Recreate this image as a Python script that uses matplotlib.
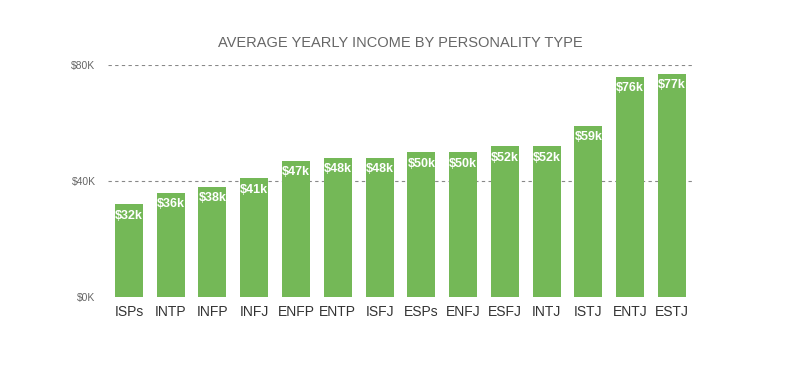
import numpy as np
import matplotlib.pyplot as plt

types = ["ISPs", "INTP", "INFP", "INFJ", "ENFP", "ENTP", "ISFJ",
         "ESPs", "ENFJ", "ESFJ", "INTJ", "ISTJ", "ENTJ", "ESTJ"]
income_k = [32, 36, 38, 41, 47, 48, 48, 50, 50, 52, 52, 59, 76, 77]
yticks = [0, 40, 80]
ytick_labels = ["$0K", "$40K", "$80K"]

plt.rcParams['font.family'] = ['Liberation Sans', 'DejaVu Sans']

fig = plt.figure(figsize=(8, 3.78), dpi=100)
ax = fig.add_axes([0.135, 0.214, 0.731, 0.614])

x = np.arange(len(types))
ax.bar(x, income_k, width=0.67, color="#74b857", zorder=2)

for xi, v in zip(x, income_k):
    ax.annotate("$%dk" % v, (xi, v), xytext=(0, -4), textcoords="offset points",
                ha="center", va="top", color="white", fontsize=9,
                fontweight="bold", zorder=3)

# dashed guide lines
for yv in yticks[1:]:
    ax.axhline(yv, color="#888888", lw=0.8, ls=(0, (3, 3)), zorder=1)

ax.set_xlim(-0.5, 13.5)
ax.set_ylim(0, 80)
ax.set_xticks(x)
ax.set_xticklabels(types, fontsize=10, color="#333333")
ax.set_yticks(yticks)
ax.set_yticklabels(ytick_labels, fontsize=7.5, color="#666666")
ax.tick_params(length=0)
ax.tick_params(axis="x", pad=6)
ax.tick_params(axis="y", pad=9)
for s in ax.spines.values():
    s.set_visible(False)

fig.text(0.5, 0.885, "AVERAGE YEARLY INCOME BY PERSONALITY TYPE",
         ha="center", va="center", fontsize=10.5, color="#666666")

fig.savefig("out.png", dpi=100)
